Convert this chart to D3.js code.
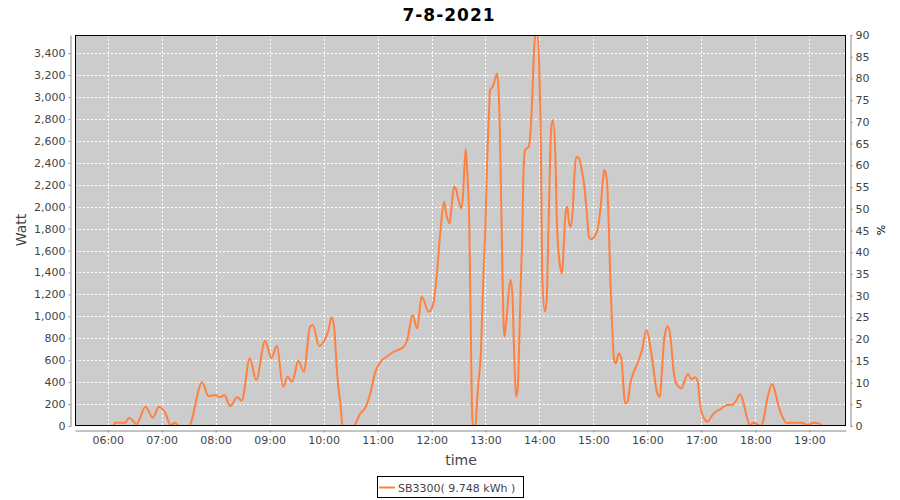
<!DOCTYPE html>
<html>
<head>
<meta charset="utf-8">
<script src="https://cdn.jsdelivr.net/npm/d3@7/dist/d3.min.js"></script>
<style>
  html, body { margin: 0; padding: 0; background: #ffffff; }
  svg { display: block; font-family: "DejaVu Sans", sans-serif; }
</style>
</head>
<body>
<svg id="chart" width="900" height="500"></svg>
<script>
// ---- data ----
const title = "7-8-2021";
const seriesName = "SB3300( 9.748 kWh )";
const times = ["05:38","06:06","06:08","06:19","06:24","06:32","06:42","06:50","06:57","07:04","07:10","07:15","07:19","07:30","07:45","07:52","08:00","08:04","08:10","08:16","08:24","08:29","08:38","08:45","08:55","09:02","09:08","09:15","09:20","09:25","09:32","09:38","09:45","09:48","09:55","10:02","10:05","10:09","10:12","10:15","10:19","10:21","10:33","10:41","10:46","10:52","10:57","11:04","11:10","11:18","11:29","11:33","11:39","11:44","11:49","11:57","12:02","12:06","12:10","12:14","12:16","12:20","12:23","12:25","12:27","12:30","12:33","12:35","12:38","12:40","12:42","12:43","12:44","12:45","12:46","12:49","12:50","12:52","12:55","12:57","13:00","13:02","13:04","13:05","13:08","13:11","13:13","13:15","13:16","13:17","13:18","13:19","13:21","13:22","13:24","13:26","13:28","13:30","13:32","13:34","13:36","13:37","13:39","13:41","13:42","13:44","13:48","13:50","13:52","13:54","13:56","13:58","14:00","14:02","14:03","14:06","14:08","14:10","14:13","14:15","14:18","14:19","14:22","14:25","14:27","14:29","14:31","14:33","14:35","14:37","14:39","14:41","14:44","14:47","14:50","14:53","14:55","14:58","15:02","15:05","15:08","15:11","15:12","15:15","15:17","15:19","15:21","15:23","15:25","15:28","15:31","15:33","15:35","15:38","15:41","15:45","15:49","15:54","15:59","16:03","16:07","16:11","16:14","16:16","16:19","16:23","16:26","16:29","16:33","16:38","16:41","16:45","16:49","16:53","16:56","16:59","17:03","17:07","17:11","17:16","17:21","17:29","17:34","17:38","17:43","17:46","17:50","17:54","17:58","18:02","18:06","18:09","18:13","18:19","18:22","18:26","18:30","18:35","18:39","18:46","18:52","18:58","19:05","19:11","19:15","19:25"];
const watts = [0,0,30,30,76,18,176,76,176,118,9,30,0,0,398,273,283,262,280,182,262,231,617,419,778,617,732,358,450,404,595,495,905,920,729,799,860,991,875,480,176,0,0,116,161,298,480,592,632,677,723,784,1012,890,1179,1042,1118,1392,1787,2044,1953,1847,2060,2181,2166,2060,1984,2105,2531,2272,1817,1270,693,146,0,0,146,389,693,1210,1847,2455,2880,3063,3093,3169,3215,2972,2698,2242,1787,1331,814,875,1027,1240,1331,1179,632,267,358,602,1240,1787,2242,2516,2546,2668,3002,3427,3600,3600,3184,2303,1392,1042,1148,1787,2698,2789,2394,1969,1513,1392,1635,1939,1999,1847,1817,1969,2303,2455,2440,2333,2181,1908,1726,1702,1741,1802,1999,2272,2333,2242,1847,1300,875,602,571,662,617,419,207,222,389,495,571,693,875,738,510,298,267,480,814,911,784,510,374,344,404,474,426,444,404,176,70,39,85,130,152,191,191,222,289,237,100,9,30,15,0,55,237,383,313,176,85,24,30,30,30,9,30,24,0,0];
const xTickLabels = ["06:00","07:00","08:00","09:00","10:00","11:00","12:00","13:00","14:00","15:00","16:00","17:00","18:00","19:00"];
const leftTicks = [0,200,400,600,800,1000,1200,1400,1600,1800,2000,2200,2400,2600,2800,3000,3200,3400];
const rightTicks = [0,5,10,15,20,25,30,35,40,45,50,55,60,65,70,75,80,85,90];
const xDomain = ["05:23:36","19:40:50"];
const leftMax = 3565;
const rightMax = 90;

// ---- helpers ----
const parseT = s => { const p = s.split(":").map(Number); return new Date(2021, 7, 7, p[0], p[1], p[2] || 0); };
const data = times.map((t, i) => ({ t: parseT(t), v: watts[i] }));

// ---- layout ----
const plot = { left: 75, right: 846, top: 35, bottom: 426 };
const svg = d3.select("#chart");

const x = d3.scaleTime().domain(xDomain.map(parseT)).range([plot.left, plot.right]);
const y = d3.scaleLinear().domain([0, leftMax]).range([plot.bottom, plot.top]);
const y2 = d3.scaleLinear().domain([0, rightMax]).range([plot.bottom, plot.top]);

// title
svg.append("text").attr("x", 449).attr("y", 21).attr("text-anchor", "middle")
  .attr("font-size", 17).attr("font-weight", "bold").attr("letter-spacing", 1).attr("fill", "#000")
  .text(title);

// plot background
svg.append("rect").attr("x", plot.left).attr("y", plot.top)
  .attr("width", plot.right - plot.left).attr("height", plot.bottom - plot.top)
  .attr("fill", "#cccccc");

// gridlines
const g = svg.append("g");
const xTicks = xTickLabels.map(parseT);
g.selectAll(".vg").data(xTicks).enter().append("line")
  .attr("x1", d => Math.round(x(d)) + 0.5).attr("x2", d => Math.round(x(d)) + 0.5)
  .attr("y1", plot.top).attr("y2", plot.bottom)
  .attr("stroke", "#ffffff").attr("stroke-width", 1).attr("stroke-dasharray", "2,2");
g.selectAll(".hg").data(leftTicks.slice(1)).enter().append("line")
  .attr("x1", plot.left).attr("x2", plot.right)
  .attr("y1", d => Math.round(y(d)) + 0.5).attr("y2", d => Math.round(y(d)) + 0.5)
  .attr("stroke", "#ffffff").attr("stroke-width", 1).attr("stroke-dasharray", "2,2");

// line
svg.append("clipPath").attr("id", "clip").append("rect")
  .attr("x", plot.left).attr("y", plot.top)
  .attr("width", plot.right - plot.left).attr("height", plot.bottom - plot.top);
const line = d3.line().x(d => x(d.t)).y(d => y(d.v)).curve(d3.curveMonotoneX);
svg.append("path").datum(data).attr("clip-path", "url(#clip)")
  .attr("d", line).attr("fill", "none").attr("stroke", "#ff8040").attr("stroke-width", 2)
  .attr("stroke-linejoin", "round");

// plot outline
svg.append("rect").attr("x", plot.left + 0.5).attr("y", plot.top + 0.5)
  .attr("width", plot.right - plot.left - 1).attr("height", plot.bottom - plot.top - 1)
  .attr("fill", "none").attr("stroke", "#000").attr("stroke-width", 1);

// axes
const axisColor = "#888888", labelColor = "#444444";
function styleAxis(sel) {
  sel.select(".domain").attr("stroke", axisColor);
  sel.selectAll(".tick line").attr("stroke", axisColor);
  sel.selectAll(".tick text").attr("fill", labelColor).attr("font-size", 11)
    .attr("font-family", "DejaVu Sans, sans-serif");
}
const xAxis = d3.axisBottom(x).tickValues(xTicks).tickFormat(d3.timeFormat("%H:%M"))
  .tickSizeInner(2).tickSizeOuter(0).tickPadding(4);
svg.append("g").attr("transform", `translate(0,${plot.bottom + 4.5})`).call(xAxis).call(styleAxis);

const yAxis = d3.axisLeft(y).tickValues(leftTicks).tickFormat(d3.format(","))
  .tickSizeInner(2).tickSizeOuter(0).tickPadding(3);
svg.append("g").attr("transform", `translate(${plot.left - 4.5},0)`).call(yAxis).call(styleAxis);

const y2Axis = d3.axisRight(y2).tickValues(rightTicks).tickFormat(d3.format("d"))
  .tickSizeInner(2).tickSizeOuter(0).tickPadding(3);
svg.append("g").attr("transform", `translate(${plot.right + 4.5},0)`).call(y2Axis).call(styleAxis);

// axis titles
svg.append("text").attr("transform", `translate(26,230) rotate(-90)`).attr("text-anchor", "middle")
  .attr("font-size", 14).attr("fill", labelColor).text("Watt");
svg.append("text").attr("transform", `translate(885,230) rotate(-90)`).attr("text-anchor", "middle")
  .attr("font-size", 11).attr("fill", "#000").text("%");
svg.append("text").attr("x", 461).attr("y", 465).attr("text-anchor", "middle")
  .attr("font-size", 14).attr("fill", labelColor).text("time");

// legend
const lg = svg.append("g");
lg.append("rect").attr("x", 377.5).attr("y", 476.5).attr("width", 146).attr("height", 21)
  .attr("fill", "#fff").attr("stroke", "#000").attr("stroke-width", 1);
lg.append("line").attr("x1", 379).attr("x2", 395).attr("y1", 487.5).attr("y2", 487.5)
  .attr("stroke", "#ff8040").attr("stroke-width", 2);
lg.append("text").attr("x", 398).attr("y", 491.5).attr("font-size", 11).attr("fill", labelColor)
  .text(seriesName);
</script>
</body>
</html>
